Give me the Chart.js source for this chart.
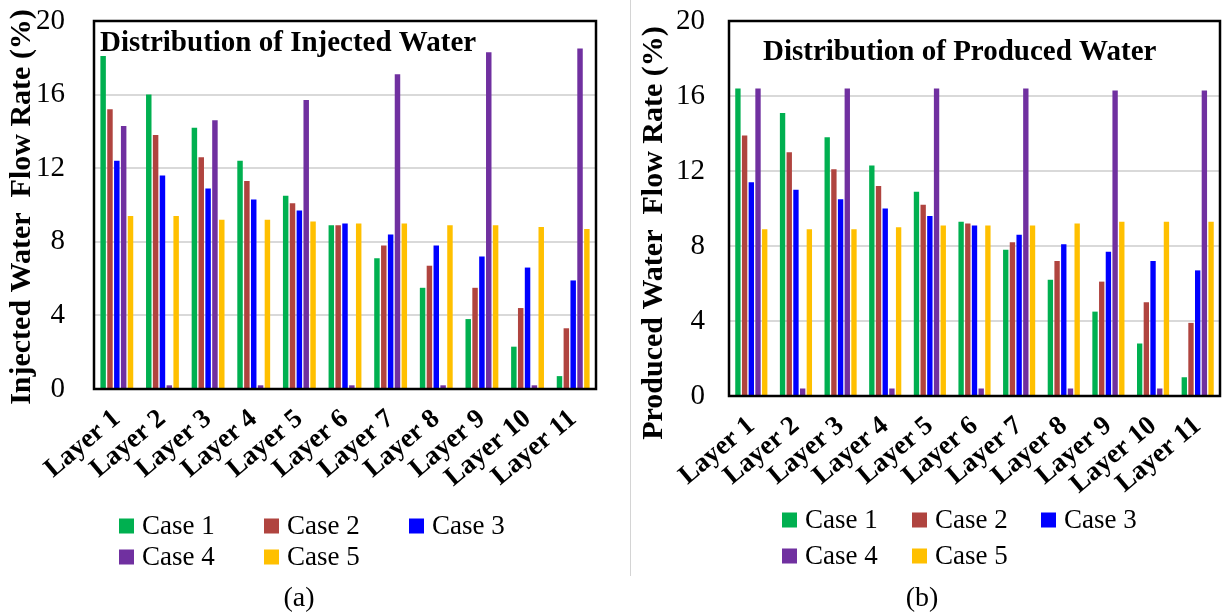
<!DOCTYPE html>
<html>
<head>
<meta charset="utf-8">
<script src="https://cdn.jsdelivr.net/npm/chart.js@4/dist/chart.umd.min.js"></script>
<style>
  html, body { margin: 0; padding: 0; background: #fff; }
  body { width: 1222px; height: 614px; position: relative; overflow: hidden;
         font-family: "Liberation Serif", "Times New Roman", serif; }
  .panel { position: absolute; top: 0; }
  #panelA { left: 0; width: 630px; height: 614px; }
  #panelB { left: 631px; width: 591px; height: 614px; }
  #divider { position: absolute; left: 630px; top: 0; width: 1px; height: 576px; background: #d4d4d4; }
  .caption { position: absolute; top: 580px; font-size: 28px; color: #000; transform: translateX(-50%); line-height: 34px; }
</style>
</head>
<body>
<div class="panel" id="panelA"><canvas id="chartA" width="630" height="614"></canvas></div>
<div id="divider"></div>
<div class="panel" id="panelB"><canvas id="chartB" width="591" height="614"></canvas></div>
<div class="caption" style="left:299px">(a)</div>
<div class="caption" style="left:922px">(b)</div>

<script>
// ---- data ----
const layers = ["Layer 1", "Layer 2", "Layer 3", "Layer 4", "Layer 5", "Layer 6",
                "Layer 7", "Layer 8", "Layer 9", "Layer 10", "Layer 11"];
const caseNames = ["Case 1", "Case 2", "Case 3", "Case 4", "Case 5"];
const yTicks = [0, 4, 8, 12, 16, 20];

// injected water flow rate (%) per layer
const injCase1 = [18.1, 16.0, 14.2, 12.4, 10.5, 8.9, 7.1, 5.5, 3.8, 2.3, 0.7];
const injCase2 = [15.2, 13.8, 12.6, 11.3, 10.1, 8.9, 7.8, 6.7, 5.5, 4.4, 3.3];
const injCase3 = [12.4, 11.6, 10.9, 10.3, 9.7, 9.0, 8.4, 7.8, 7.2, 6.6, 5.9];
const injCase4 = [14.3, 0.2, 14.6, 0.2, 15.7, 0.2, 17.1, 0.2, 18.3, 0.2, 18.5];
const injCase5 = [9.4, 9.4, 9.2, 9.2, 9.1, 9.0, 9.0, 8.9, 8.9, 8.8, 8.7];

// produced water flow rate (%) per layer
const prodCase1 = [16.4, 15.1, 13.8, 12.3, 10.9, 9.3, 7.8, 6.2, 4.5, 2.8, 1.0];
const prodCase2 = [13.9, 13.0, 12.1, 11.2, 10.2, 9.2, 8.2, 7.2, 6.1, 5.0, 3.9];
const prodCase3 = [11.4, 11.0, 10.5, 10.0, 9.6, 9.1, 8.6, 8.1, 7.7, 7.2, 6.7];
const prodCase4 = [16.4, 0.4, 16.4, 0.4, 16.4, 0.4, 16.4, 0.4, 16.3, 0.4, 16.3];
const prodCase5 = [8.9, 8.9, 8.9, 9.0, 9.1, 9.1, 9.1, 9.2, 9.3, 9.3, 9.3];

const caseColors = ["#00B050", "#B0443F", "#0000FF", "#7030A0", "#FFC000"];

const titleA = "Distribution of Injected Water";
const titleB = "Distribution of Produced Water";
const yTitleA = "Injected Water  Flow Rate (%)";
const yTitleB = "Produced Water  Flow Rate (%)";

const SERIF = '"Liberation Serif", "Times New Roman", serif';

// ---- plugins ----
// black box around the plot area
const framePlugin = {
  id: 'frame',
  afterDatasetsDraw(chart) {
    const { ctx, chartArea: a } = chart;
    ctx.save();
    ctx.strokeStyle = '#000';
    ctx.lineWidth = 2.5;
    ctx.strokeRect(a.left, a.top, a.right - a.left, a.bottom - a.top);
    ctx.restore();
  }
};

// bold heading written inside the plot area
const innerTitlePlugin = {
  id: 'innerTitle',
  afterDatasetsDraw(chart, args, opts) {
    const { ctx, chartArea: a } = chart;
    ctx.save();
    ctx.font = 'bold 29px ' + SERIF;
    ctx.fillStyle = '#000';
    ctx.textAlign = 'left';
    ctx.textBaseline = 'alphabetic';
    ctx.fillText(opts.text, a.left + opts.dx, a.top + opts.dy);
    ctx.restore();
  }
};

// rotated y-axis caption
const sideTitlePlugin = {
  id: 'sideTitle',
  afterDraw(chart, args, opts) {
    const { ctx } = chart;
    ctx.save();
    ctx.translate(opts.x, opts.y);
    ctx.rotate(-Math.PI / 2);
    ctx.font = 'bold 30px ' + SERIF;
    ctx.fillStyle = '#000';
    ctx.textAlign = 'center';
    ctx.textBaseline = 'middle';
    ctx.fillText(opts.text, 0, 0);
    ctx.restore();
  }
};

// legend laid out as a 3-column grid
const gridLegendPlugin = {
  id: 'gridLegend',
  afterDraw(chart, args, opts) {
    const { ctx } = chart;
    ctx.save();
    ctx.font = '27px ' + SERIF;
    ctx.textBaseline = 'middle';
    ctx.textAlign = 'left';
    chart.data.datasets.forEach((ds, i) => {
      const col = i % 3, row = Math.floor(i / 3);
      const x = opts.cols[col], y = opts.rows[row];
      ctx.fillStyle = ds.backgroundColor;
      ctx.fillRect(x, y - 7.5, 15, 15);
      ctx.fillStyle = '#000';
      ctx.fillText(ds.label, x + 23, y + 1);
    });
    ctx.restore();
  }
};

function buildDatasets(series) {
  return series.map((vals, i) => ({
    label: caseNames[i],
    data: vals,
    backgroundColor: caseColors[i],
    borderWidth: 0,
    categoryPercentage: 0.75,
    barPercentage: 0.8
  }));
}

function makeChart(canvasId, series, cfg) {
  return new Chart(document.getElementById(canvasId), {
    type: 'bar',
    data: { labels: layers, datasets: buildDatasets(series) },
    plugins: [framePlugin, innerTitlePlugin, sideTitlePlugin, gridLegendPlugin],
    options: {
      responsive: false,
      animation: false,
      devicePixelRatio: 1,
      layout: { padding: cfg.padding },
      plugins: {
        legend: { display: false },
        tooltip: { enabled: false },
        innerTitle: cfg.innerTitle,
        sideTitle: cfg.sideTitle,
        gridLegend: cfg.legend
      },
      scales: {
        x: {
          type: 'category',
          grid: { display: false, drawTicks: false },
          border: { display: false },
          ticks: {
            color: '#000',
            font: { family: SERIF, size: 27, weight: 'bold' },
            minRotation: 40,
            maxRotation: 40,
            autoSkip: false,
            padding: 14
          },
          afterFit(scale) {
            scale.height = cfg.xHeight;
            scale.paddingLeft = 0; scale.paddingRight = 0;
          }
        },
        y: {
          min: 0,
          max: 20,
          afterBuildTicks(scale) { scale.ticks = yTicks.map(v => ({ value: v })); },
          grid: { color: '#d9d9d9', lineWidth: 2, drawTicks: false },
          border: { display: false },
          ticks: {
            color: '#000',
            font: { family: SERIF, size: 29 },
            padding: cfg.yPad
          },
          afterFit(scale) {
            scale.width = cfg.yWidth;
            scale.paddingTop = 0; scale.paddingBottom = 0;
          }
        }
      }
    }
  });
}

makeChart('chartA', [injCase1, injCase2, injCase3, injCase4, injCase5], {
  padding: { top: 21, right: 34, bottom: 125, left: 0 },
  xHeight: 100,
  yWidth: 94,
  yPad: 29,
  innerTitle: { text: titleA, dx: 6, dy: 30 },
  sideTitle: { text: yTitleA, x: 22, y: 207 },
  legend: { cols: [119, 264, 409], rows: [526, 557] }
});

makeChart('chartB', [prodCase1, prodCase2, prodCase3, prodCase4, prodCase5], {
  padding: { top: 21, right: 2, bottom: 118, left: 0 },
  xHeight: 100,
  yWidth: 98,
  yPad: 24,
  innerTitle: { text: titleB, dx: 34, dy: 39 },
  sideTitle: { text: yTitleB, x: 23, y: 233 },
  legend: { cols: [151, 281, 410], rows: [520, 556] }
});
</script>
</body>
</html>
